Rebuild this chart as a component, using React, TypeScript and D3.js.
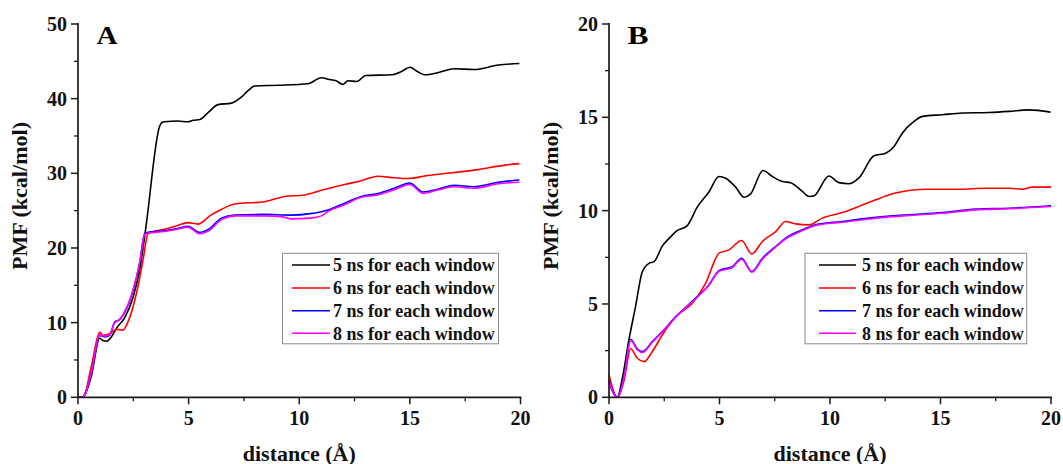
import React from "react";
import * as d3 from "d3";

// PMF profiles, [distance (Å), PMF (kcal/mol)]
const panelA_5ns: [number, number][] = [
  [0, 0], [0.2, 0], [0.3, 0.3], [0.6, 2.8], [0.98, 7.9], [1.13, 7.6], [1.3, 7.5], [1.43, 7.8],
  [1.8, 9.5], [2.1, 10.6], [2.48, 13.3], [2.79, 17.1], [3.01, 21.5], [3.1, 23.5], [3.69, 36.3],
  [3.8, 36.8], [3.92, 36.9], [4.5, 37.0], [4.97, 36.9], [5.2, 37.1], [5.5, 37.2], [5.9, 38.2],
  [6.33, 39.2], [6.93, 39.4], [7.38, 40.2], [7.7, 41.1], [7.98, 41.7], [9.04, 41.8], [10.4, 42.0],
  [11.0, 42.8], [11.3, 42.6], [11.67, 42.4], [11.97, 41.9], [12.2, 42.4], [12.6, 42.3], [13.0, 43.1],
  [14.2, 43.2], [14.6, 43.6], [15.0, 44.2], [15.3, 43.7], [15.66, 43.2], [16.3, 43.5], [17.0, 44.0],
  [17.9, 43.9], [19.0, 44.5], [19.95, 44.7],
];
const panelA_6ns: [number, number][] = [
  [0, 0], [0.23, 0], [0.6, 4.1], [0.98, 8.7], [1.13, 8.3], [1.43, 8.5], [1.73, 9.1], [2.03, 9.0],
  [2.26, 10.1], [2.64, 13.9], [2.94, 18.4], [3.16, 21.9], [3.3, 22.1], [3.9, 22.5], [4.5, 23.0],
  [4.97, 23.4], [5.42, 23.2], [6.0, 24.4], [6.5, 25.2], [7.08, 25.9], [8.43, 26.2], [9.34, 26.9],
  [10.24, 27.1], [11.1, 27.8], [12.05, 28.5], [12.8, 29.0], [13.55, 29.6], [14.3, 29.4], [14.9, 29.3],
  [15.8, 29.7], [17.0, 30.1], [18.07, 30.5], [19.3, 31.1], [19.95, 31.3],
];
const panelA_7ns: [number, number][] = [
  [0, 0], [0.2, 0], [0.6, 3.2], [0.98, 8.3], [1.2, 8.1], [1.43, 8.3], [1.66, 10.1], [1.88, 10.4],
  [2.1, 11.3], [2.48, 14.2], [2.79, 18.0], [3.01, 21.9], [3.16, 22.1], [3.9, 22.3], [4.5, 22.6],
  [4.97, 22.9], [5.5, 22.1], [5.95, 22.6], [6.48, 24.0], [7.08, 24.4], [8.43, 24.5], [9.64, 24.4],
  [10.5, 24.6], [11.3, 25.1], [12.05, 26.0], [12.8, 26.9], [13.55, 27.3], [14.3, 28.0], [15.0, 28.7],
  [15.6, 27.5], [16.3, 27.9], [17.0, 28.4], [17.9, 28.2], [19.0, 28.8], [19.95, 29.1],
];
const panelA_8ns: [number, number][] = [
  [0, 0], [0.2, 0], [0.6, 3.3], [0.98, 8.4], [1.2, 8.2], [1.43, 8.4], [1.66, 10.0], [1.88, 10.4],
  [2.1, 11.4], [2.48, 14.3], [2.79, 18.1], [3.01, 21.8], [3.16, 22.0], [3.9, 22.2], [4.5, 22.5],
  [4.97, 22.8], [5.5, 21.9], [5.95, 22.4], [6.48, 23.8], [7.08, 24.3], [8.43, 24.3], [9.2, 24.2],
  [9.64, 23.9], [10.5, 24.0], [11.0, 24.3], [11.3, 24.9], [12.05, 25.8], [12.8, 26.8], [13.55, 27.1],
  [14.3, 27.8], [15.0, 28.5], [15.6, 27.3], [16.3, 27.8], [17.0, 28.2], [17.9, 28.0], [19.0, 28.6],
  [19.95, 28.8],
];

const panelB_5ns: [number, number][] = [
  [0, 0.8], [0.38, 0], [0.6, 1.0], [0.9, 3.07], [1.2, 4.86], [1.5, 6.7], [1.81, 7.18], [2.04, 7.27],
  [2.41, 8.1], [2.79, 8.6], [3.05, 8.9], [3.54, 9.2], [4.0, 10.2], [4.52, 11.0], [4.98, 11.83],
  [5.28, 11.74], [5.73, 11.26], [6.11, 10.72], [6.41, 10.9], [6.97, 12.15], [7.39, 11.83],
  [7.84, 11.56], [8.22, 11.5], [8.75, 11.03], [9.05, 10.76], [9.28, 10.8], [9.95, 11.86],
  [10.4, 11.5], [10.86, 11.44], [11.3, 11.74], [11.99, 12.94], [12.52, 13.08], [12.9, 13.44],
  [13.27, 14.15], [13.8, 14.78], [14.18, 15.05], [15.08, 15.14], [15.99, 15.23], [17.2, 15.26],
  [18.1, 15.32], [19.0, 15.4], [19.98, 15.28],
];
const panelB_6ns: [number, number][] = [
  [0, 1.2], [0.38, 0], [0.68, 0.9], [0.98, 2.6], [1.28, 2.09], [1.58, 1.91], [1.96, 2.45],
  [2.41, 3.34], [3.02, 4.32], [3.77, 5.04], [4.37, 6.11], [4.98, 7.72], [5.43, 7.9], [6.0, 8.4],
  [6.46, 7.68], [6.94, 8.35], [7.54, 8.88], [8.0, 9.42], [8.45, 9.29], [9.05, 9.24], [9.65, 9.6],
  [10.56, 9.9], [11.46, 10.3], [12.07, 10.58], [12.82, 10.9], [13.57, 11.08], [14.48, 11.15],
  [15.84, 11.15], [17.04, 11.2], [18.1, 11.2], [18.7, 11.15], [19.15, 11.26], [20, 11.26],
];
const panelB_7ns: [number, number][] = [
  [0, 0.9], [0.38, 0], [0.68, 1.1], [0.98, 3.1], [1.28, 2.6], [1.51, 2.45], [1.96, 2.98],
  [2.41, 3.52], [3.02, 4.32], [3.92, 5.31], [4.52, 6.02], [4.98, 6.79], [5.58, 7.0], [6.0, 7.45],
  [6.46, 6.74], [6.94, 7.45], [7.54, 8.08], [8.14, 8.65], [8.6, 8.9], [9.35, 9.24], [10.56, 9.42],
  [11.76, 9.6], [12.82, 9.72], [13.57, 9.78], [15.08, 9.9], [16.6, 10.08], [18.1, 10.13], [20, 10.26],
];
const panelB_8ns: [number, number][] = [
  [0, 0.85], [0.38, 0], [0.68, 1.05], [0.98, 3.05], [1.28, 2.55], [1.51, 2.4], [1.96, 2.95],
  [2.41, 3.5], [3.02, 4.3], [3.92, 5.28], [4.52, 6.0], [4.98, 6.75], [5.58, 6.95], [6.0, 7.4],
  [6.46, 6.7], [6.94, 7.4], [7.54, 8.05], [8.14, 8.6], [8.6, 8.85], [9.35, 9.2], [10.56, 9.38],
  [11.76, 9.55], [12.82, 9.68], [13.57, 9.74], [15.08, 9.86], [16.6, 10.04], [18.1, 10.1], [20, 10.22],
];

const seriesLabels = [
  "5 ns for each window",
  "6 ns for each window",
  "7 ns for each window",
  "8 ns for each window",
];
const seriesColors = ["#000000", "#ff0000", "#0000ff", "#ff00ff"];

const xTicksMajor = [0, 5, 10, 15, 20];
const yTicksA = [0, 10, 20, 30, 40, 50];
const yTicksB = [0, 5, 10, 15, 20];

const FONT = "'Liberation Serif', 'Times New Roman', serif";

type PanelProps = {
  letter: string;
  x0: number;
  x1: number;
  yMax: number;
  yMajor: number[];
  series: [number, number][][];
  legend: { x0: number; x1: number; lineX0: number; lineX1: number; textX: number };
};

function Panel({ letter, x0, x1, yMax, yMajor, series, legend }: PanelProps) {
  const top = 24;
  const bottom = 397.3;
  const x = d3.scaleLinear().domain([0, 20]).range([x0, x1]);
  const y = d3.scaleLinear().domain([0, yMax]).range([bottom, top]);
  const line = d3
    .line<[number, number]>()
    .x((d) => x(d[0]))
    .y((d) => y(d[1]))
    .curve(d3.curveMonotoneX);

  const yStep = yMajor[1] - yMajor[0];
  const yMinor = d3.range(yStep / 2, yMax, yStep);
  const xMinor = d3.range(2.5, 20, 5);

  const rowY = [265, 288, 310.7, 333.3];
  const axisColor = "#1a1a1a";

  return (
    <g>
      {series.map((s, i) => (
        <path key={i} d={line(s) ?? ""} fill="none" stroke={seriesColors[i]} strokeWidth={1.6} strokeLinejoin="round" />
      ))}

      {/* axes */}
      <line x1={x0} x2={x0} y1={top - 1} y2={bottom} stroke={axisColor} strokeWidth={1.7} />
      <line x1={x0} x2={x1 + 1} y1={bottom} y2={bottom} stroke={axisColor} strokeWidth={1.7} />
      {yMajor.map((t) => (
        <g key={"ym" + t}>
          <line x1={x0 - 7} x2={x0} y1={y(t)} y2={y(t)} stroke={axisColor} strokeWidth={1.5} />
          <text x={x0 - 11} y={y(t)} dy="0.35em" textAnchor="end" fontFamily={FONT} fontWeight="bold" fontSize={20} fill="#111">
            {t}
          </text>
        </g>
      ))}
      {yMinor.map((t) => (
        <line key={"yn" + t} x1={x0 - 4} x2={x0} y1={y(t)} y2={y(t)} stroke={axisColor} strokeWidth={1.3} />
      ))}
      {xTicksMajor.map((t) => (
        <g key={"xm" + t}>
          <line x1={x(t)} x2={x(t)} y1={bottom} y2={bottom + 7} stroke={axisColor} strokeWidth={1.5} />
          <text x={x(t)} y={425} textAnchor="middle" fontFamily={FONT} fontWeight="bold" fontSize={20} fill="#111">
            {t}
          </text>
        </g>
      ))}
      {xMinor.map((t) => (
        <line key={"xn" + t} x1={x(t)} x2={x(t)} y1={bottom} y2={bottom + 4} stroke={axisColor} strokeWidth={1.3} />
      ))}

      {/* axis titles */}
      <text
        x={(x0 + x1) / 2 - 56.5}
        y={460.5}
        textLength={113}
        lengthAdjust="spacingAndGlyphs"
        fontFamily={FONT}
        fontWeight="bold"
        fontSize={21}
        fill="#111"
      >
        distance (Å)
      </text>
      <text
        transform={`translate(${x0 - 51},${270}) rotate(-90)`}
        textLength={148}
        lengthAdjust="spacingAndGlyphs"
        fontFamily={FONT}
        fontWeight="bold"
        fontSize={21}
        fill="#111"
      >
        PMF (kcal/mol)
      </text>

      {/* panel letter */}
      <text
        x={x0 + 18.5}
        y={43.5}
        textLength={21}
        lengthAdjust="spacingAndGlyphs"
        fontFamily={FONT}
        fontWeight="bold"
        fontSize={25}
        fill="#000"
      >
        {letter}
      </text>

      {/* legend */}
      <rect x={legend.x0} y={253.3} width={legend.x1 - legend.x0} height={90.5} fill="#fff" stroke="#8a8a8a" strokeWidth={1} />
      {seriesLabels.map((lab, i) => (
        <g key={lab}>
          <line x1={legend.lineX0} x2={legend.lineX1} y1={rowY[i]} y2={rowY[i]} stroke={seriesColors[i]} strokeWidth={1.6} />
          <text x={legend.textX} y={rowY[i]} dy="0.35em" fontFamily={FONT} fontWeight="bold" fontSize={18} fill="#111">
            {lab}
          </text>
        </g>
      ))}
    </g>
  );
}

export default function App() {
  return (
    <svg
      width={1063}
      height={464}
      viewBox="0 0 1063 464"
      style={{ position: "absolute", left: 0, top: 0, background: "#fff" }}
    >
      <rect width={1063} height={464} fill="#fff" />
      <Panel
        letter="A"
        x0={78}
        x1={520.5}
        yMax={50}
        yMajor={yTicksA}
        series={[panelA_5ns, panelA_6ns, panelA_7ns, panelA_8ns]}
        legend={{ x0: 282.5, x1: 498.5, lineX0: 292, lineX1: 330, textX: 333 }}
      />
      <Panel
        letter="B"
        x0={609}
        x1={1051}
        yMax={20}
        yMajor={yTicksB}
        series={[panelB_5ns, panelB_6ns, panelB_7ns, panelB_8ns]}
        legend={{ x0: 805, x1: 1026.7, lineX0: 819, lineX1: 856, textX: 862 }}
      />
    </svg>
  );
}
